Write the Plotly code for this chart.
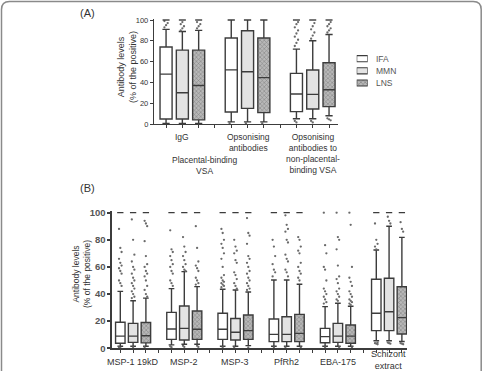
import plotly.graph_objects as go

W, H = 483, 371
def px(x): return x / W
def py(y): return 1 - y / H

series = ["IFA", "MMN", "LNS"]

# ---------------- Panel A data ----------------
A_groups = ["IgG", "Opsonising<br>antibodies", "Opsonising<br>antibodies to<br>non-placental-<br>binding VSA"]
A_IFA_q1 = [4.8, 11.5, 11.9]
A_IFA_med = [48, 52, 28.8]
A_IFA_q3 = [74, 82.7, 48.7]
A_IFA_lo = [0.5, 2, 5]
A_IFA_hi = [91, 100, 72]
A_MMN_q1 = [4.8, 15, 14.4]
A_MMN_med = [30, 50.3, 28.5]
A_MMN_q3 = [71, 89.7, 51.9]
A_MMN_lo = [0.5, 2, 5]
A_MMN_hi = [89, 100, 80]
A_LNS_q1 = [4, 10.9, 16.7]
A_LNS_med = [37, 44.6, 33]
A_LNS_q3 = [71, 82.7, 58.9]
A_LNS_lo = [0.5, 2, 8]
A_LNS_hi = [90, 100, 86]
A_IFA_out = [[93, 95, 97, 99], [0.8], [75, 78, 81, 84, 87, 90, 93, 96, 98, 3, 1.5]]
A_MMN_out = [[90, 92, 94, 96, 98], [0.8], [82, 85, 88, 91, 94, 97, 3, 1.5]]
A_LNS_out = [[92, 94, 96, 98], [0.8], [88, 90, 92, 94, 96, 98, 5.5, 4.5, 3.5]]
A_sat = [[True, True, True], [False, False, False], [True, True, True]]  # many values at 100%

# ---------------- Panel B data ----------------
B_groups = ["MSP-1 19kD", "MSP-2", "MSP-3", "PfRh2", "EBA-175", "Schizont<br>extract"]
B_IFA_q1 = [3.7, 6.6, 6.6, 4.9, 4.1, 13]
B_IFA_med = [9, 14.2, 14, 10.3, 8.6, 25.8]
B_IFA_q3 = [19.2, 26.5, 25.8, 21.6, 14.7, 50.9]
B_IFA_lo = [1.5, 2.5, 1.5, 1.5, 1.5, 5.6]
B_IFA_hi = [42, 44, 43.5, 50.4, 30.7, 72.5]
B_MMN_q1 = [4.4, 6.1, 6.1, 4.9, 4.4, 13]
B_MMN_med = [9, 14.7, 11.8, 10.3, 9, 27]
B_MMN_q3 = [18.4, 31.2, 22, 23.3, 18.4, 51.6]
B_MMN_lo = [1.5, 3, 1.5, 1.5, 1.5, 5.6]
B_MMN_hi = [35, 56.5, 43, 50.4, 33.2, 90]
B_LNS_q1 = [4, 6.6, 6.6, 4.9, 3.7, 10.5]
B_LNS_med = [9.3, 14, 13, 11, 9, 22.6]
B_LNS_q3 = [19, 27.5, 24.5, 25, 17.2, 45.4]
B_LNS_lo = [1.5, 3, 2, 1.5, 1.5, 5]
B_LNS_hi = [37, 45.5, 41.5, 47.2, 31, 81.8]
B_IFA_out = [
    [88, 74, 71, 66, 63, 61, 59, 57, 55, 50, 48, 46, 0.7, 0.3],
    [87, 73, 71, 68, 65, 62, 60, 57, 55, 50, 48, 46, 1.5, 0.8],
    [88, 85, 80, 77, 74, 70, 66, 60, 54, 52, 50, 49, 48, 47, 46, 45, 0.7],
    [80, 75, 68, 62, 58, 56, 53, 0.7],
    [100, 76, 70, 60, 58, 50, 44, 42, 40, 38, 36, 34, 33, 0.7],
    [92, 80, 77, 75, 73, 4.2, 3.8, 3.4, 3],
]
B_MMN_out = [
    [95, 80, 69, 64, 60, 58, 55, 52, 50, 48, 46, 44, 42, 40, 38, 37, 0.7],
    [82, 75, 71, 68, 65, 62, 60, 58, 57, 1.8, 1],
    [80, 75, 72, 70, 65, 63, 56, 54, 51, 48, 46, 44, 0.7],
    [98, 91, 88, 86, 80, 78, 69, 66, 64, 58, 56, 53, 0.7],
    [100, 82, 80, 73, 61, 53, 51, 48, 44, 42, 40, 38, 36, 35, 0.7],
    [97, 94, 92, 4.2, 3.8, 3.4],
]
B_LNS_out = [
    [94, 92, 90, 79, 68, 62, 60, 57, 55, 53, 50, 46, 43, 40, 38, 0.7],
    [90, 74, 64, 61, 59, 57, 52, 50, 48, 47, 1.8, 1],
    [96, 85, 83, 77, 68, 66, 63, 60, 57, 55, 52, 50, 48, 46, 44, 43, 0.7],
    [82, 80, 75, 72, 70, 63, 60, 57, 55, 52, 50, 0.7],
    [100, 91, 60, 52, 49, 46, 42, 40, 38, 36, 35, 34, 33, 32, 0.7],
    [93, 88, 86, 3.8, 3.4, 3],
]
B_sat = [[True] * 3, [True] * 3, [True] * 3, [True] * 3, [False] * 3, [True] * 3]

# ---------------- styling ----------------
LINE = "#3c3c3c"
FILLS = {"IFA": "white", "MMN": "#e3e3e3", "LNS": "rgba(0,0,0,0)"}
HATCH_BG = "#b8b8b8"
FONT = "Liberation Sans, Arial, sans-serif"
BW = 0.74

fig = go.Figure()

def add_panel(xa, ya, stats, outs, sat, ngroups, dash_px):
    for s_i, s in enumerate(series):
        q1, med, q3, lo, hi = stats[s]
        pos = [4 * g + 1 + s_i for g in range(ngroups)]
        if s == "LNS":
            fig.add_trace(go.Bar(
                x=pos, y=[b - a for a, b in zip(q1, q3)], base=q1, width=BW,
                xaxis=xa, yaxis=ya, hoverinfo="skip",
                marker=dict(color=HATCH_BG, line=dict(width=0),
                            pattern=dict(shape="x", size=3, solidity=0.35,
                                         fgcolor="#505050", bgcolor=HATCH_BG))))
        fig.add_trace(go.Box(
            x=pos, q1=q1, median=med, q3=q3, lowerfence=lo, upperfence=hi,
            orientation="v", width=BW, whiskerwidth=0.6, boxpoints=False,
            fillcolor=FILLS[s], line=dict(color=LINE, width=1.4),
            xaxis=xa, yaxis=ya))
        ox, oy = [], []
        offs = [-0.1, 0.0, 0.1]
        for g, vals in enumerate(outs[s]):
            for k, v in enumerate(vals):
                ox.append(pos[g] + offs[k % 3])
                oy.append(v)
        fig.add_trace(go.Scatter(
            x=ox, y=oy, mode="markers", xaxis=xa, yaxis=ya,
            marker=dict(size=2.3, color="#6a6a6a")))
        sx = [pos[g] for g in range(ngroups) if sat[g][s_i]]
        fig.add_trace(go.Scatter(
            x=sx, y=[100] * len(sx), mode="markers", xaxis=xa, yaxis=ya,
            marker=dict(symbol="line-ew", size=dash_px,
                        line=dict(color=LINE, width=1.4))))

statsA = {"IFA": (A_IFA_q1, A_IFA_med, A_IFA_q3, A_IFA_lo, A_IFA_hi),
          "MMN": (A_MMN_q1, A_MMN_med, A_MMN_q3, A_MMN_lo, A_MMN_hi),
          "LNS": (A_LNS_q1, A_LNS_med, A_LNS_q3, A_LNS_lo, A_LNS_hi)}
outsA = {"IFA": A_IFA_out, "MMN": A_MMN_out, "LNS": A_LNS_out}
statsB = {"IFA": (B_IFA_q1, B_IFA_med, B_IFA_q3, B_IFA_lo, B_IFA_hi),
          "MMN": (B_MMN_q1, B_MMN_med, B_MMN_q3, B_MMN_lo, B_MMN_hi),
          "LNS": (B_LNS_q1, B_LNS_med, B_LNS_q3, B_LNS_lo, B_LNS_hi)}
outsB = {"IFA": B_IFA_out, "MMN": B_MMN_out, "LNS": B_LNS_out}

add_panel("x", "y", statsA, outsA, A_sat, len(A_groups), 5)
add_panel("x2", "y2", statsB, outsB, B_sat, len(B_groups), 4.5)

# legend swatches (own invisible axes)
fig.add_trace(go.Bar(
    orientation="h", y=[0, 1, 2], x=[1, 1, 1], base=0, width=0.5,
    xaxis="x3", yaxis="y3", hoverinfo="skip",
    marker=dict(color=["white", "#e3e3e3", HATCH_BG],
                line=dict(color=LINE, width=1.1),
                pattern=dict(shape=["", "", "x"], size=3, solidity=0.35,
                             fgcolor="#505050", bgcolor=HATCH_BG))))

axis_common = dict(showgrid=False, zeroline=False, showline=True, linecolor=LINE,
                   ticks="outside", tickcolor=LINE, automargin=False)

fig.update_layout(
    width=W, height=H, margin=dict(l=0, r=0, t=0, b=0),
    paper_bgcolor="white", plot_bgcolor="white", showlegend=False,
    barmode="overlay", boxmode="overlay",
    font=dict(family=FONT, color="#333"),
    xaxis=dict(domain=[px(154), px(338)], range=[0.26, 11.55], anchor="y",
               tickvals=list(range(1, 12)), showticklabels=False,
               ticklen=3, tickwidth=1.2, linewidth=1.4, **axis_common),
    yaxis=dict(domain=[py(124), py(18.96)], range=[0, 101], anchor="x",
               tickvals=[0, 20, 40, 60, 80, 100], ticklen=3, tickwidth=1.2,
               linewidth=1.4, tickfont=dict(size=7.5, color="#333"), **axis_common),
    xaxis2=dict(domain=[px(112.3), px(407)], range=[0.375, 23.4], anchor="y2",
                tickvals=list(range(1, 24)), showticklabels=False,
                ticklen=3, tickwidth=1.4, linewidth=1.8, **axis_common),
    yaxis2=dict(domain=[py(348.3), py(211.3)], range=[0, 101], anchor="x2",
                tickvals=[0, 20, 40, 60, 80, 100], ticklen=3, tickwidth=1.6,
                linewidth=1.8, tickfont=dict(size=9.5, color="#555", weight="bold"),
                **axis_common),
    xaxis3=dict(domain=[px(356.7), px(367.7)], range=[0, 1], visible=False, anchor="y3"),
    yaxis3=dict(domain=[py(89.1), py(52.6)], range=[2.5, -0.5], visible=False, anchor="x3"),
)

ann = []
def text(x, y, t, size, anchor="center", angle=0, color="#333"):
    ann.append(dict(x=px(x), y=py(y), xref="paper", yref="paper", text=t,
                    showarrow=False, xanchor=anchor, yanchor="middle",
                    textangle=angle, font=dict(size=size, color=color, family=FONT)))

text(87, 13, "(A)", 11)
text(87, 188, "(B)", 11)
text(127, 67, "Antibody levels<br>(% of the positive)", 9, angle=-90)
text(81, 274, "Antibody levels<br>(% of the positive)", 8.5, angle=-90)
# panel A category labels
text(181.7, 137, A_groups[0], 8.5)
text(248.3, 142.5, A_groups[1], 8.5)
text(313.3, 153, A_groups[2], 8.5)
text(204, 165.5, "Placental-binding<br>VSA", 8.5)
# panel B labels
bx = [132.7, 183.9, 235.1, 286.3, 337.5, 388.7]
for i, g in enumerate(B_groups):
    text(bx[i], 360.3 if "<br>" in g else 361.7, g, 9)
# legend labels
for i, s in enumerate(series):
    text(374.3, 58.7 + 12.2 * i, s, 8.5, anchor="left", color="#555")
fig.update_layout(annotations=ann)

# frame with rounded top corners
L, R, T, r = 1.5, 481.2, 1.5, 8
path = (f"M {px(L)},{py(400)} L {px(L)},{py(T + r)} Q {px(L)},{py(T)} {px(L + r)},{py(T)} "
        f"L {px(R - r)},{py(T)} Q {px(R)},{py(T)} {px(R)},{py(T + r)} L {px(R)},{py(400)}")
fig.add_shape(type="path", path=path, xref="paper", yref="paper",
              line=dict(color="#8a8a8a", width=1.5))

fig.write_html("out.html")
